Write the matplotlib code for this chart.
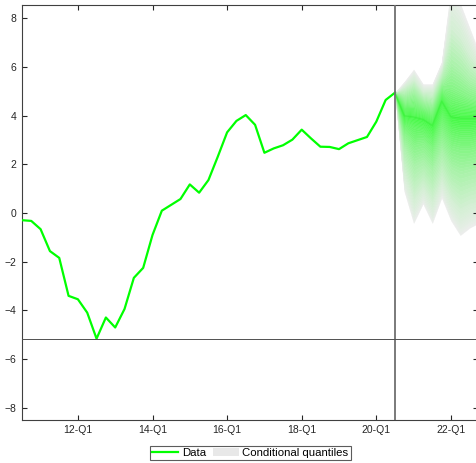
import matplotlib
matplotlib.use("Agg")
import matplotlib.pyplot as plt
import numpy as np
from matplotlib.patches import Patch
from matplotlib.lines import Line2D

plt.rcParams['font.family'] = ['Liberation Sans', 'DejaVu Sans']

# Historical data: quarterly, 2010-Q3 .. 2020-Q3
data_vals = [-0.29, -0.32, -0.66, -1.56, -1.84, -3.40, -3.54, -4.09, -5.16, -4.29,
             -4.70, -3.94, -2.66, -2.25, -0.90, 0.10, 0.34, 0.58, 1.18, 0.84,
             1.36, 2.32, 3.32, 3.79, 4.03, 3.63, 2.48, 2.66, 2.79, 3.02,
             3.43, 3.07, 2.73, 2.72, 2.63, 2.87, 3.00, 3.13, 3.76, 4.65, 4.95]

# Conditional quantiles: 2020-Q3 .. 2022-Q4
q05 = [4.95, 0.9, -0.4, 0.4, -0.4, 0.65, -0.3, -0.9, -0.6, -0.4]
q10 = [4.95, 1.7, 0.6, 1.1, 0.5, 1.4, 0.6, 0.2, 0.4, 0.5]
q20 = [4.95, 2.7, 1.9, 2.1, 1.7, 2.5, 1.8, 1.6, 1.7, 1.8]
q30 = [4.95, 3.3, 2.8, 2.9, 2.5, 3.3, 2.7, 2.6, 2.6, 2.7]
q40 = [4.95, 3.7, 3.5, 3.4, 3.1, 4.0, 3.4, 3.3, 3.3, 3.4]
q50 = [4.95, 4.0, 3.95, 3.85, 3.6, 4.6, 3.95, 3.9, 3.9, 3.9]
q60 = [4.95, 4.3, 4.3, 4.15, 3.95, 4.9, 4.5, 4.4, 4.35, 4.3]
q70 = [4.95, 4.6, 4.7, 4.4, 4.3, 5.2, 5.2, 5.0, 4.8, 4.7]
q80 = [4.95, 4.9, 5.1, 4.7, 4.6, 5.5, 6.2, 5.9, 5.5, 5.3]
q90 = [4.95, 5.2, 5.5, 5.0, 5.0, 5.9, 7.6, 7.2, 6.5, 6.0]
q95 = [4.95, 5.4, 5.9, 5.3, 5.3, 6.2, 9.2, 8.6, 7.6, 6.6]

quantile_levels = [0.05, 0.10, 0.20, 0.30, 0.40, 0.50, 0.60, 0.70, 0.80, 0.90, 0.95]

xtick_labels = ['12-Q1', '14-Q1', '16-Q1', '18-Q1', '20-Q1', '22-Q1']
xtick_pos = [6, 14, 22, 30, 38, 46]
yticks = [-8, -6, -4, -2, 0, 2, 4, 6, 8]

x_hist = np.arange(len(data_vals))
x_fc = np.arange(len(data_vals) - 1, len(data_vals) - 1 + len(q50))

fig = plt.figure(figsize=(4.77, 4.63), dpi=100)
ax = fig.add_axes([0.046, 0.093, 0.957, 0.896])

qs = np.array([q05, q10, q20, q30, q40, q50, q60, q70, q80, q90, q95])
lv = np.array(quantile_levels)
gray = np.array([0.93, 0.93, 0.93])
green = np.array([0.27, 0.98, 0.27])

# smooth colour gradient between the read quantile curves (rendering only)
sub = 8
for j in range(len(lv) - 1):
    for k in range(sub):
        a0, a1 = k / sub, (k + 1) / sub
        lo = qs[j] * (1 - a0) + qs[j + 1] * a0
        hi = qs[j] * (1 - a1) + qs[j + 1] * a1
        pm = lv[j] * (1 - (a0 + a1) / 2) + lv[j + 1] * (a0 + a1) / 2
        t = 1 - abs(pm - 0.5) / 0.45
        t = np.clip(t, 0, 1) ** 0.85
        c = gray * (1 - t) + green * t
        ax.fill_between(x_fc, lo, hi, color=c, linewidth=0.3, edgecolor=c, zorder=1)
ax.plot(x_fc, q50, color=(0.22, 0.93, 0.22), lw=1.0, alpha=0.5, zorder=2)

ax.plot(x_hist, data_vals, color='#00ff00', lw=1.6, zorder=3)

ax.axvline(len(data_vals) - 1, color='#707070', lw=1.3, zorder=4)
ax.axhline(min(data_vals), color='#505050', lw=0.7, zorder=4)

ax.set_xlim(0, 48.95)
ax.set_ylim(-8.5, 8.55)
ax.set_xticks(xtick_pos)
ax.set_xticklabels(xtick_labels)
ax.set_yticks(yticks)
ax.tick_params(direction='in', length=3.5, width=0.8, labelsize=7.5,
               colors='#262626', top=True, right=True, pad=4)
for s in ax.spines.values():
    s.set_color('#404040')
    s.set_linewidth(0.8)

handles = [Line2D([0], [0], color='#00ff00', lw=1.6),
           Patch(facecolor='#e8e8e8', edgecolor='none')]
leg = fig.legend(handles, ['Data', 'Conditional quantiles'], loc='center',
                 bbox_to_anchor=(0.525, 0.022), ncol=2, fontsize=8.2,
                 frameon=True, fancybox=False, edgecolor='#333333',
                 borderpad=0.2, handlelength=2.3, handletextpad=0.3,
                 columnspacing=0.6, borderaxespad=0)
leg.get_frame().set_linewidth(0.8)

fig.savefig('out.png', dpi=100)
